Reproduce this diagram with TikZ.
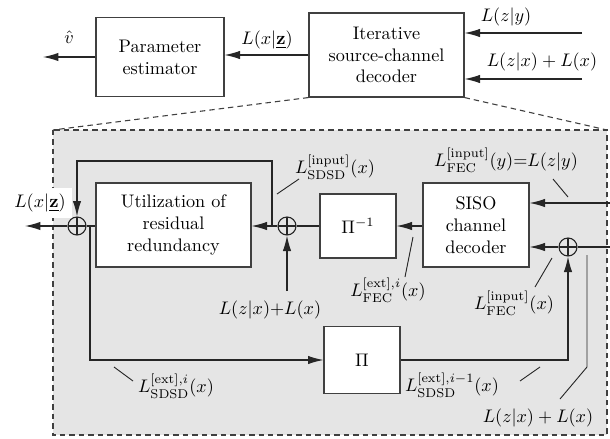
\documentclass[tikz,border=0pt]{standalone}
\usetikzlibrary{arrows.meta}
\begin{document}
\begin{tikzpicture}[x=0.55pt,y=-0.55pt,
  box/.style={draw=black!75, line width=0.6pt, fill=white, align=center, inner sep=0pt},
  sumc/.style={circle, draw=black!85, line width=0.6pt, minimum size={18*0.55pt}, inner sep=0pt,
    path picture={\draw[black!85, line width=0.6pt] (path picture bounding box.north) -- (path picture bounding box.south) (path picture bounding box.west) -- (path picture bounding box.east);}},
  conn/.style={draw=black!85, line width=0.6pt},
  arr/.style={conn, -{Latex[length=8.5pt, width=4.6pt]}},
  lead/.style={draw=black!85, line width=0.5pt},
  gbox/.style={draw=black!75, line width=0.6pt, dash pattern=on 3pt off 2.2pt}
]
\useasboundingbox (0,0) rectangle (610,439);

% ---------- top part ----------
\node[box, minimum width={128*0.55pt}, minimum height={79*0.55pt}] (pe) at (160,57) {Parameter\\estimator};
\node[box, minimum width={155*0.55pt}, minimum height={84*0.55pt}] (isc) at (386.5,55) {Iterative\\source-channel\\decoder};
\coordinate (vout) at (43,57);
\draw[arr] (pe.west) -- (vout);
\node (vh) at (69,37) {$\hat{v}$};
\draw[arr] (isc.west) -- (isc.west -| pe.east);
\node (lxzt) at (267,40) {$L(x|\underline{\mathbf{z}})$};
\coordinate (in1) at (582,33);
\coordinate (in2) at (582,79);
\draw[arr] (in1) -- (in1 -| isc.east);
\draw[arr] (in2) -- (in2 -| isc.east);
\node (lzy) at (506,17) {$L(z|y)$};
\node (lzx) at (542,62) {$L(z|x) + L(x)$};

% ---------- zoomed part ----------
\coordinate (gtl) at (53,130);
\coordinate (gbr) at (607,435);
\coordinate (gtr) at (607,130);
\draw[gbox, fill=black!10] (gtl) rectangle (gbr);
\draw[gbox] (isc.south west) -- (gtl);
\draw[gbox] (isc.south east) -- (gtr);

\node[sumc] (s1) at (77,226) {};
\node[box, minimum width={155*0.55pt}, minimum height={84*0.55pt}] (util) at (173.5,225) {Utilization of\\residual\\redundancy};
\node[sumc] (s2) at (287,226) {};
\node[box, minimum width={76*0.55pt}, minimum height={64*0.55pt}] (pinv) at (358,226) {$\Pi^{-1}$};
\node[box, minimum width={106*0.55pt}, minimum height={84*0.55pt}] (siso) at (476,225) {SISO\\channel\\decoder};
\node[sumc] (s3) at (568,247) {};
\node[box, minimum width={76*0.55pt}, minimum height={67*0.55pt}] (pi) at (362,360) {$\Pi$};

% connectors
\coordinate (out) at (25,226);
\draw[arr] (s1.west) -- (out);
\draw[conn] (s1.east) -- (s1.east -| util.west);
\coordinate (br1) at (90,226);
\draw[arr] (br1) |- (pi.west);
\draw[arr] (s2.west) -- (s2.west -| util.east);
\coordinate (br2) at (272,226);
\coordinate (lt) at (272,161);
\draw[arr] (br2) -- (lt) -| (s1.north);
\draw[conn] (pinv.west) -- (s2.east);
\draw[arr] (pinv.east -| siso.west) -- (pinv.east);
\coordinate (s2in) at (287,291);
\draw[arr] (s2in) -- (s2.south);
\coordinate (r1) at (610,203);
\draw[arr] (r1) -- (r1 -| siso.east);
\coordinate (r2) at (610,247);
\draw[conn] (r2) -- (s3.east);
\draw[arr] (s3.west) -- (s3.west -| siso.east);
\coordinate (c3) at (568,360);
\draw[arr] (pi.east) -- (c3) -- (s3.south);

% labels
\node[fill=white, inner sep=3.5pt] (lxz) at (40,203) {$L(x|\underline{\mathbf{z}})$};
\node (lsi) at (335,167) {$L^{[\mathrm{input}]}_{\mathrm{SDSD}}(x)$};
\coordinate (a1) at (277,194); \coordinate (a2) at (299,179);
\draw[lead] (a1) -- (a2);
\node (lfy) at (506,160) {$L^{[\mathrm{input}]}_{\mathrm{FEC}}(y){=}L(z|y)$};
\coordinate (b1) at (553,179); \coordinate (b2) at (568,197);
\draw[lead] (b1) -- (b2);
\node (lfe) at (388,290) {$L^{[\mathrm{ext}],i}_{\mathrm{FEC}}(x)$};
\coordinate (c1) at (413,237); \coordinate (c2) at (405,277);
\draw[lead] (c1) -- (c2);
\node (lfx) at (514,303) {$L^{[\mathrm{input}]}_{\mathrm{FEC}}(x)$};
\coordinate (d1) at (535,287); \coordinate (d2) at (552,258);
\draw[lead] (d1) -- (d2);
\node (lzx2) at (270,310) {$L(z|x){+}L(x)$};
\node (lse) at (176,386) {$L^{[\mathrm{ext}],i}_{\mathrm{SDSD}}(x)$};
\coordinate (e1) at (114,367); \coordinate (e2) at (133,381);
\draw[lead] (e1) -- (e2);
\node (lse1) at (452,385) {$L^{[\mathrm{ext}],i-1}_{\mathrm{SDSD}}(x)$};
\coordinate (f1) at (520,381); \coordinate (f2) at (540,367);
\draw[lead] (f1) -- (f2);
\node (lzx3) at (538,418) {$L(z|x) + L(x)$};
\coordinate (g1) at (587,255); \coordinate (g2) at (587,367); \coordinate (g3) at (560,399);
\draw[lead] (g1) -- (g2) -- (g3);
\end{tikzpicture}
\end{document}
